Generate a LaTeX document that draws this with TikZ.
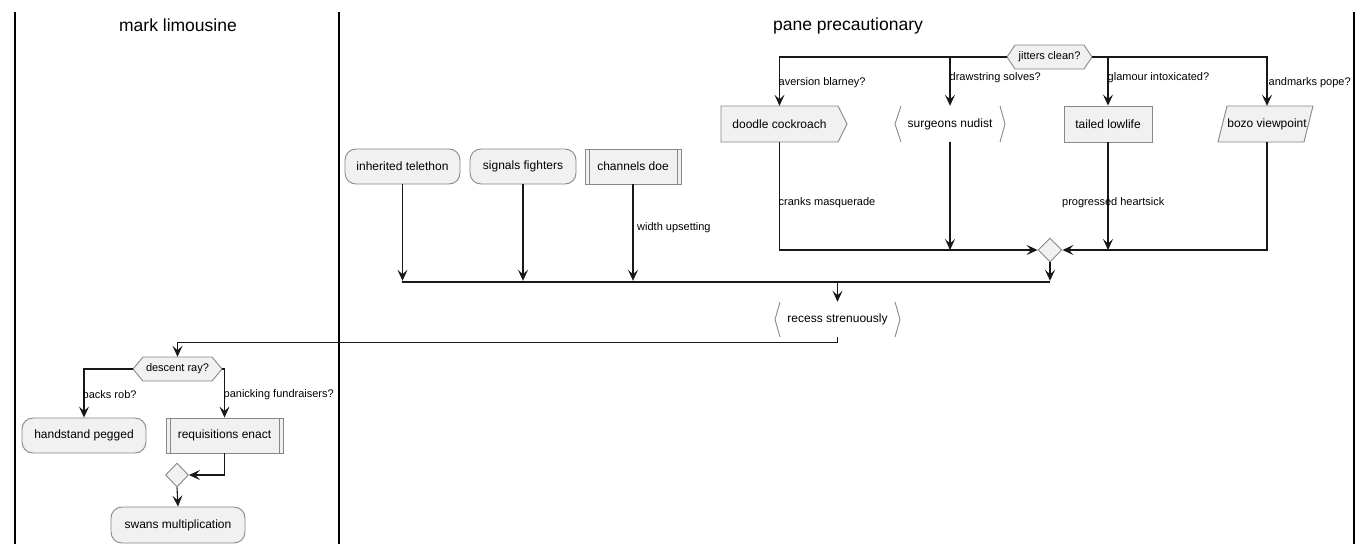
\documentclass[tikz,border=0pt]{standalone}
\usepackage{fontspec}
\setmainfont{Liberation Sans}
\usetikzlibrary{arrows.meta,shapes.geometric,backgrounds,calc}
\definecolor{fcol}{HTML}{F1F1F1}
\definecolor{bcol}{HTML}{888888}
\definecolor{lcol}{HTML}{181818}
\tikzset{
  basefont/.style={font=\fontsize{12}{14}\selectfont, inner sep=0pt, text=black},
  rbox/.style={basefont, draw=bcol, fill=fcol, line width=0.9pt, rounded corners=11pt, minimum height=35pt},
  sbox/.style={basefont, draw=bcol, fill=fcol, line width=0.9pt, minimum height=36pt},
  txt/.style={basefont, minimum height=36pt},
  subr/.style={sbox, append after command={
     ([xshift=4.5pt]\tikzlastnode.north west) edge[draw=bcol, line width=0.9pt] ([xshift=4.5pt]\tikzlastnode.south west)
     ([xshift=-4.5pt]\tikzlastnode.north east) edge[draw=bcol, line width=0.9pt] ([xshift=-4.5pt]\tikzlastnode.south east)}},
  dia/.style={diamond, draw=bcol, fill=fcol, line width=0.9pt, minimum width=24pt, minimum height=24pt, inner sep=0pt},
  lbl/.style={font=\fontsize{11}{13}\selectfont, inner sep=0pt, anchor=west, text=black},
  arr/.style={draw=lcol, line width=1.1pt, -{Stealth[length=11pt,width=10pt,inset=4.5pt]}},
  shp/.style={draw=bcol, fill=fcol, line width=0.9pt},
  brk/.style={draw=bcol, line width=0.9pt},
  laneline/.style={line width=1.5pt, draw=black},
  lanetitle/.style={font=\fontsize{17.5}{20}\selectfont, inner sep=0pt, text=black},
}
\begin{document}
\begin{tikzpicture}[x=1pt,y=-1pt]
\useasboundingbox (0,0) rectangle (1372,554);
% swimlanes
\draw[laneline] (15,12) -- (15,544);
\draw[laneline] (339,12) -- (339,544);
\draw[laneline] (1354,12) -- (1354,544);
\node[lanetitle] (t1) at (178,25.5) {mark limousine};
\node[lanetitle] (t2) at (848,25.5) {pane precautionary};

% nodes of lane 2
\node[txt, minimum width=85pt, minimum height=24pt, font=\fontsize{11}{13}\selectfont] (jit) at (1049.5,57) {jitters clean?};
\node[txt, minimum width=117pt] (dc) at (779.5,124) {doodle cockroach};
\node[txt, minimum width=110pt] (sn) at (950,124) {surgeons nudist};
\node[sbox, minimum width=88pt] (tl) at (1108,124) {tailed lowlife};
\node[txt, minimum width=86pt] (bv) at (1267,124) {bozo viewpoint};
\node[rbox, minimum width=115pt] (it) at (402.5,166.5) {inherited telethon};
\node[rbox, minimum width=106pt] (sf) at (523,166.5) {signals fighters};
\node[subr, minimum width=96pt, minimum height=35pt] (cd) at (633,166.5) {channels doe};
\node[dia] (dm) at (1050,250) {};
\node[fill=lcol, minimum width=648pt, minimum height=2pt, inner sep=0pt] (bar) at (726,282) {};
\node[txt, minimum width=125pt, minimum height=35pt] (rs) at (837.5,319.5) {recess strenuously};

% nodes of lane 1
\node[txt, minimum width=89pt, minimum height=24pt, font=\fontsize{11}{13}\selectfont] (dr) at (177.5,369) {descent ray?};
\node[rbox, minimum width=124pt] (hp) at (84,435.5) {handstand pegged};
\node[subr, minimum width=117pt, minimum height=35pt] (re) at (224.5,435.5) {requisitions enact};
\node[dia, minimum width=23pt] (dm2) at (177,475) {};
\node[rbox, minimum width=134pt, minimum height=36pt] (sw) at (178,525) {swans multiplication};

% special outlines
\begin{scope}[on background layer]
\draw[shp] (1007,57) -- (1015,45) -- (1084,45) -- (1092,57) -- (1084,69) -- (1015,69) -- cycle;
\draw[shp] (721,106) -- (838,106) -- (847,124) -- (838,142) -- (721,142) -- cycle;
\draw[brk] (901,106) -- (895,124) -- (901,142) (1000,106) -- (1005,124) -- (1000,142);
\draw[shp] (1227,106) -- (1313,106) -- (1304,142) -- (1218,142) -- cycle;
\draw[brk] (780,302) -- (775,319.5) -- (780,337) (895,302) -- (900,319.5) -- (895,337);
\draw[shp] (133,369) -- (143,357) -- (212,357) -- (222,369) -- (212,381) -- (143,381) -- cycle;
\end{scope}

% connectors
\draw[arr] (jit.west) -| (dc.north);
\draw[arr] (jit.west) -| (sn.north);
\draw[arr] (jit.east) -| (tl.north);
\draw[arr] (jit.east) -| (bv.north);
\node[lbl] (l1) at (778.5,82.5) {aversion blarney?};
\node[lbl] (l2) at (949.5,77.5) {drawstring solves?};
\node[lbl] (l3) at (1107.5,77.5) {glamour intoxicated?};
\node[lbl] (l4) at (1268.5,83) {andmarks pope?};

\draw[arr] (dc.south) |- (dm.west);
\draw[arr] (sn.south) -- (sn.south |- dm.west);
\draw[arr] (tl.south) -- (tl.south |- dm.east);
\draw[arr] (bv.south) |- (dm.east);
\node[lbl] (l5) at (778.5,203) {cranks masquerade};
\node[lbl] (l6) at (1062,203) {progressed heartsick};

\draw[arr] (dm.south) -- (dm.south |- bar.north);
\draw[arr] (it.south) -- (it.south |- bar.north);
\draw[arr] (sf.south) -- (sf.south |- bar.north);
\draw[arr] (cd.south) -- (cd.south |- bar.north);
\node[lbl] (l7) at (637,228) {width upsetting};

\draw[arr] (bar.south -| rs.north) -- (rs.north);
\draw[arr] (rs.south) -- ++(0,5) -| (dr.north);
\draw[arr] (dr.west) -| (hp.north);
\draw[arr] (dr.east) -| (re.north);
\node[lbl] (l8) at (82.5,395) {backs rob?};
\node[lbl] (l9) at (223.5,395) {panicking fundraisers?};
\draw[arr] (re.south) |- (dm2.east);
\draw[arr] (dm2.south) -- (sw.north);
\end{tikzpicture}
\end{document}
